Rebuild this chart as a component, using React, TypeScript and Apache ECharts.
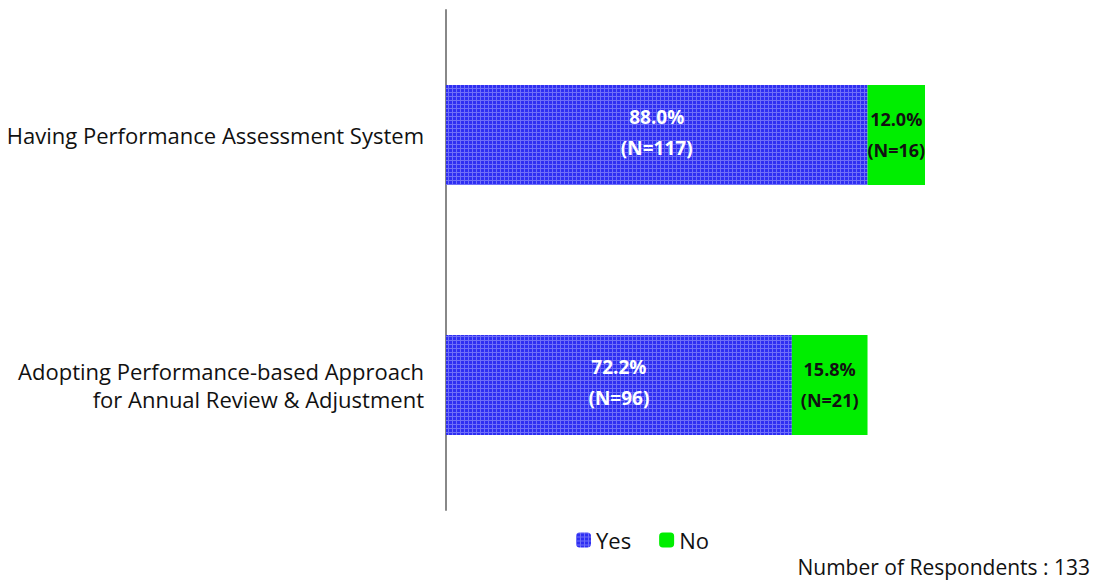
import React, { useEffect, useRef } from "react";
import * as echarts from "echarts";

const categories = [
  "Having Performance Assessment System",
  "Adopting Performance-based Approach\nfor Annual Review & Adjustment",
];
const yesValues = [88.0, 72.2];
const yesN = [117, 96];
const noValues = [12.0, 15.8];
const noN = [16, 21];
const seriesNames = ["Yes", "No"];
const respondentsNote = "Number of Respondents : 133";

function makePattern(): HTMLCanvasElement {
  const c = document.createElement("canvas");
  c.width = 4;
  c.height = 4;
  const ctx = c.getContext("2d")!;
  ctx.fillStyle = "#2f2ff2";
  ctx.fillRect(0, 0, 4, 4);
  ctx.fillStyle = "#6f6ff8";
  ctx.fillRect(0, 0, 4, 1);
  ctx.fillRect(0, 0, 1, 4);
  return c;
}

export default function App() {
  const ref = useRef<HTMLDivElement>(null);
  useEffect(() => {
    if (!ref.current) return;
    const chart = echarts.init(ref.current, undefined, { renderer: "svg" });
    const pattern = makePattern();
    const font = "'Open Sans', 'DejaVu Sans', sans-serif";
    chart.setOption({
      animation: false,
      textStyle: { fontFamily: font },
      grid: { left: 446, top: 10, bottom: 71, width: 479, containLabel: false },
      xAxis: {
        type: "value",
        min: 0,
        max: 100,
        show: false,
      },
      yAxis: {
        type: "category",
        inverse: true,
        data: categories,
        axisLine: { show: true, lineStyle: { color: "#888888", width: 2 } },
        axisTick: { show: false },
        axisLabel: {
          margin: 22,
          fontSize: 22,
          color: "#111111",
          fontFamily: font,
          lineHeight: 28,
          align: "right",
        },
      },
      legend: {
        top: 524,
        left: 571,
        itemWidth: 15,
        itemHeight: 15,
        itemGap: 28,
        textStyle: { fontSize: 22, color: "#111", fontFamily: font },
        data: [
          { name: seriesNames[0], itemStyle: { color: { image: pattern, repeat: "repeat" } } },
          { name: seriesNames[1] },
        ],
      },
      graphic: [
        {
          type: "text",
          right: 14,
          bottom: 4,
          style: { text: respondentsNote, fontSize: 21, fill: "#111", fontFamily: font },
        },
      ],
      series: [
        {
          name: seriesNames[0],
          type: "bar",
          stack: "total",
          barWidth: "40%",
          data: yesValues,
          itemStyle: { color: { image: pattern, repeat: "repeat" } },
          label: {
            show: true,
            position: "inside",
            offset: [0, -3],
            color: "#ffffff",
            fontWeight: "bold",
            fontSize: 19,
            lineHeight: 31,
            fontFamily: font,
            formatter: (p: any) => `${yesValues[p.dataIndex].toFixed(1)}%\n(N=${yesN[p.dataIndex]})`,
          },
        },
        {
          name: seriesNames[1],
          type: "bar",
          stack: "total",
          barWidth: "40%",
          data: noValues,
          itemStyle: { color: "#00ee00" },
          label: {
            show: true,
            position: "inside",
            offset: [0, -1],
            color: "#111111",
            fontWeight: "bold",
            fontSize: 18,
            lineHeight: 31,
            fontFamily: font,
            formatter: (p: any) => `${noValues[p.dataIndex].toFixed(1)}%\n(N=${noN[p.dataIndex]})`,
          },
        },
      ],
    });
    return () => chart.dispose();
  }, []);
  return (
    <div
      ref={ref}
      style={{ position: "absolute", left: 0, top: 0, width: 1104, height: 581 }}
    />
  );
}
